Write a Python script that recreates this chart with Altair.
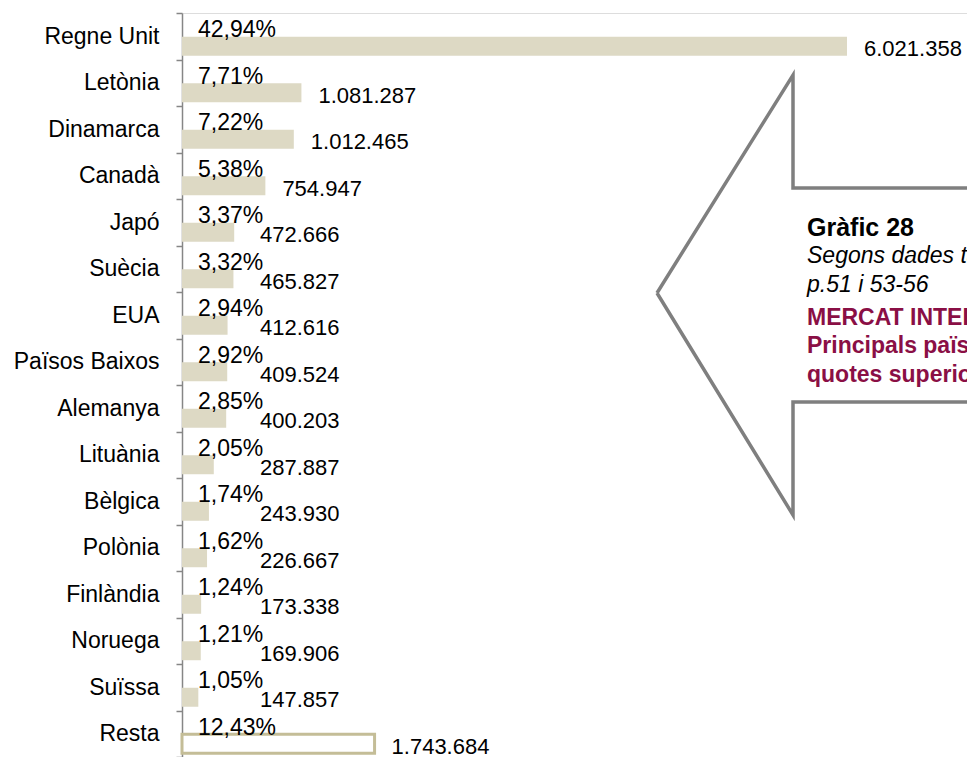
import altair as alt
import pandas as pd

# ---- data ----
countries = ["Regne Unit", "Letònia", "Dinamarca", "Canadà", "Japó", "Suècia", "EUA",
             "Països Baixos", "Alemanya", "Lituània", "Bèlgica", "Polònia", "Finlàndia",
             "Noruega", "Suïssa", "Resta"]
values = [6021358, 1081287, 1012465, 754947, 472666, 465827, 412616, 409524, 400203,
          287887, 243930, 226667, 173338, 169906, 147857, 1743684]
pcts = [42.94, 7.71, 7.22, 5.38, 3.37, 3.32, 2.94, 2.92, 2.85, 2.05, 1.74, 1.62,
        1.24, 1.21, 1.05, 12.43]

# callout annotation (left-pointing arrow box) and its texts
callout_x = [475, 611, 611, 800, 800, 611, 611, 475]
callout_y = [280, 62, 175, 175, 389, 389, 502, 280]
title_lines = ["Gràfic 28"]
source_lines = ["Segons dades taules de l'informe", "p.51 i 53-56"]
subtitle_lines = ["MERCAT INTERNACIONAL", "Principals països emissors amb",
                  "quotes superiors a l'1%"]

FONT = "Liberation Sans"
W, H = 785, 744
XMAX = 7108000

df = pd.DataFrame({
    "country": countries,
    "value": values,
    "pct": pcts,
})
df["vlabel"] = [f"{v:,}".replace(",", ".") for v in values]
df["plabel"] = [f"{p:.2f}".replace(".", ",") + "%" for p in pcts]
df["zero"] = 0
df["labx"] = [max(v, 552000) for v in values]


def yenc(with_axis):
    ax = alt.Axis(title=None, tickBand="extent", labelFont=FONT,
                  labelFontSize=23, labelColor="black", labelPadding=17,
                  tickSize=6, tickColor="#868686", tickWidth=1.5,
                  domainColor="#868686", domainWidth=1.5) if with_axis else None
    return alt.Y("country:N", sort=countries,
                 scale=alt.Scale(paddingInner=0, paddingOuter=0), axis=ax)


def xenc(field):
    return alt.X(field, scale=alt.Scale(domain=[0, XMAX], nice=False, zero=True), axis=None)


base = alt.Chart(df)

bars = base.mark_bar(size=19, yOffset=10, strokeWidth=3).encode(
    x=xenc("value:Q"),
    y=yenc(True),
    fill=alt.condition(alt.datum.country == "Resta", alt.value("white"), alt.value("#DDD9C4")),
    stroke=alt.condition(alt.datum.country == "Resta", alt.value("#C4BD97"), alt.value("#DDD9C4")),
    strokeWidth=alt.condition(alt.datum.country == "Resta", alt.value(3), alt.value(0)),
)

pct_text = base.mark_text(align="left", baseline="alphabetic", dx=16, dy=1,
                          font=FONT, fontSize=23, color="black").encode(
    x=xenc("zero:Q"),
    y=yenc(False),
    text="plabel:N",
)

val_text = base.mark_text(
    align="left", baseline="alphabetic", dx=17, dy=20,
    font=FONT, fontSize=22, color="black").encode(
    x=xenc("labx:Q"),
    y=yenc(False),
    text="vlabel:N",
)


def cxe(field):
    return alt.X(field, scale=alt.Scale(domain=[0, W], nice=False, zero=False), axis=None)


def cye(field):
    return alt.Y(field, scale=alt.Scale(domain=[0, H], nice=False, zero=False, reverse=True),
                 axis=None)


cdf = pd.DataFrame({"px": callout_x, "py": callout_y, "i": list(range(len(callout_x)))})
arrow = alt.Chart(cdf).mark_line(color="#7F7F7F", strokeWidth=3.5, strokeJoin="miter").encode(
    x=cxe("px:Q"),
    y=cye("py:Q"),
    order="i:O",
)

TX = 625
tdf1 = pd.DataFrame({"t": title_lines, "x": [TX], "y": [223]})
tdf2 = pd.DataFrame({"t": source_lines, "x": [TX, TX], "y": [250, 279]})
tdf3 = pd.DataFrame({"t": subtitle_lines, "x": [TX] * 3, "y": [312, 340, 369]})


def txt(d, size=23, **kw):
    return alt.Chart(d).mark_text(align="left", baseline="alphabetic", font=FONT,
                                  fontSize=size, **kw).encode(
        x=cxe("x:Q"),
        y=cye("y:Q"),
        text="t:N",
    )


chart = alt.layer(
    bars, pct_text, val_text,
    arrow,
    txt(tdf1, size=25, fontWeight="bold", color="black"),
    txt(tdf2, fontStyle="italic", color="black"),
    txt(tdf3, fontWeight="bold", color="#8A0F45"),
).resolve_scale(
    x="independent", y="independent"
).properties(
    width=W, height=H,
    autosize=alt.AutoSizeParams(type="none"),
    padding={"left": 174, "top": 5, "right": 0, "bottom": 0},
).configure_view(stroke=None).configure(background="white")

chart.save("out.html", embed_options={"renderer": "svg", "actions": False})
